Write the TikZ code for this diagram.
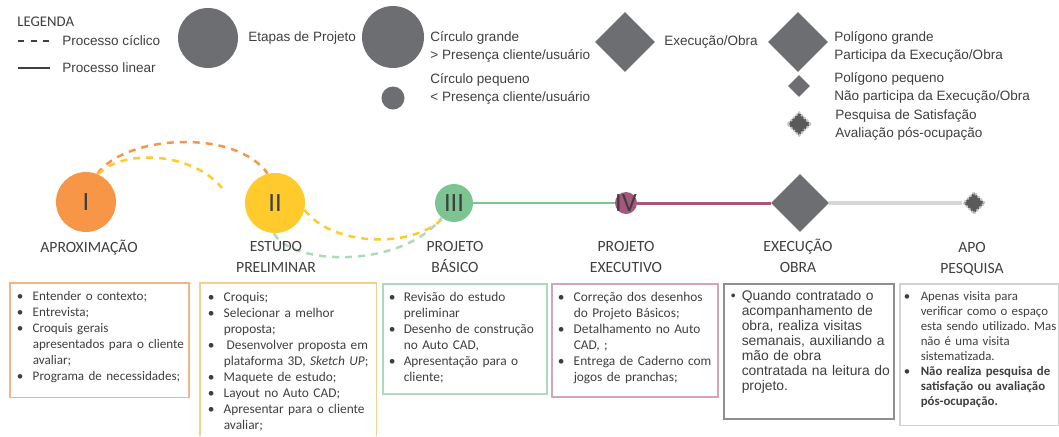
\documentclass[tikz,border=0pt]{standalone}
\usepackage{fontspec}
\setmainfont{Liberation Sans}
\newfontfamily\calibri{Carlito}
\usepackage{tikz}
\usetikzlibrary{shapes.geometric, positioning}
\definecolor{fsorange}{HTML}{F79646}
\definecolor{fsyellow}{HTML}{FFCA2B}
\definecolor{fsgreen}{HTML}{7CC492}
\definecolor{fsmauve}{HTML}{A6577C}
\definecolor{fsgray}{HTML}{6D6E71}
\definecolor{fsdark}{HTML}{5A5A5A}
\definecolor{fstext}{HTML}{3F3F3F}
\definecolor{fsrail}{HTML}{D6D6D6}
\definecolor{bdorange}{HTML}{F4B48A}
\definecolor{bdyellow}{HTML}{F0D28C}
\definecolor{bdgreen}{HTML}{ADDBB7}
\definecolor{bdmauve}{HTML}{D3A5B6}
\definecolor{bdgray}{HTML}{8F8F8F}
\definecolor{bdlight}{HTML}{D2D2D2}
\frenchspacing
\newlength\itmhang
\newlength\itmpad
\newcommand{\itmset}[2]{\setlength\itmhang{#1}\setlength\itmpad{#2}}
\newcommand{\itm}{\par\hangindent=\itmhang\hangafter=1\noindent
  \makebox[\itmhang][l]{\hspace{\itmpad}\textbullet}}
\newcommand{\boxcal}{\calibri\fontsize{7.6}{9.1}\selectfont}

\begin{document}
\begin{tikzpicture}[
    x=0.2mm, y=-0.2mm,
    stage/.style={circle, fill=#1, inner sep=0pt, text=fstext,
                  font=\calibri\fontsize{15}{15}\selectfont},
    numeral/.style={inner sep=0pt, text=fstext, font=\calibri\fontsize{15}{15}\selectfont},
    losango/.style={diamond, aspect=1, fill=fsgray, inner sep=0pt},
    pesquisa/.style={diamond, aspect=1, fill=fsdark, draw=gray!45,
                     line width=0.4mm, densely dotted, inner sep=0pt},
    rotulo/.style={align=center, anchor=base, text=fstext, inner sep=0pt,
                   font=\calibri\fontsize{8.9}{11.4}\selectfont},
    legenda/.style={anchor=west, align=left, text=fstext, inner sep=0pt,
                    font=\fontsize{7.7}{10.2}\selectfont},
    ciclo/.style={draw=#1, line width=0.5mm, dash pattern=on 1.4mm off 1.2mm},
    lista/.style={draw=#1, line width=0.3mm, anchor=north west, align=left,
                  inner xsep=0.6mm, inner ysep=0.4mm, text=fstext}
]
\useasboundingbox (0,0) rectangle (1059,436);

% legenda
\node[anchor=west, inner sep=0pt, text=fstext, font=\calibri\fontsize{8.4}{10}\selectfont]
    (leg-titulo) at (17,22) {LEGENDA};
\draw[fstext, line width=0.5mm, dash pattern=on 1.2mm off 1.3mm] (18,41) -- (50,41);
\node[legenda] (leg-ciclico) at (62,41) {Processo cíclico};
\draw[fstext, line width=0.5mm] (18,68) -- (50,68);
\node[legenda] (leg-linear) at (62,68) {Processo linear};

\node[circle, fill=fsgray, inner sep=0pt, minimum size=12mm] (leg-etapa) at (208,38) {};
\node[legenda] (leg-etapa-txt) at (248,38) {Etapas de Projeto};
\node[circle, fill=fsgray, inner sep=0pt, minimum size=12.4mm] (leg-grande) at (393,37) {};
\node[legenda] (leg-grande-txt) at (430,47) {Círculo grande\\> Presença cliente/usuário};
\node[circle, fill=fsgray, inner sep=0pt, minimum size=4.6mm] (leg-pequeno) at (393,98) {};
\node[legenda] (leg-pequeno-txt) at (430,89) {Círculo pequeno\\< Presença cliente/usuário};

\node[losango, minimum size=12mm] (leg-obra) at (625,42) {};
\node[legenda] (leg-obra-txt) at (664,42) {Execução/Obra};
\node[losango, minimum size=12mm] (leg-pgrande) at (798,42) {};
\node[legenda] (leg-pgrande-txt) at (834,47) {Polígono grande\\Participa da Execução/Obra};
\node[losango, minimum size=4.4mm] (leg-ppequeno) at (799,86) {};
\node[legenda] (leg-ppequeno-txt) at (834,88) {Polígono pequeno\\Não participa da Execução/Obra};
\node[pesquisa, minimum size=4.8mm] (leg-pesquisa) at (799,124) {};
\node[legenda] (leg-pesquisa-txt) at (835,125) {Pesquisa de Satisfação\\Avaliação pós-ocupação};

% etapas
\node[stage=fsorange, minimum size=12mm] (aprox) at (86,202) {I};
\node[stage=fsyellow, minimum size=12mm] (estudo) at (275,203) {II};
\node[stage=fsgreen, minimum size=7.6mm] (basico) at (454,203) {III};
\node[stage=fsmauve, minimum size=4.4mm, label={[numeral]center:IV}] (executivo) at (626,203) {};
\node[losango, minimum size=11.6mm] (obra) at (800,203) {};
\node[pesquisa, minimum size=4.4mm] (apo) at (974,203) {};

\draw[fsgreen, line width=0.25mm] (basico) -- (executivo);
\draw[fsmauve, line width=0.6mm] (executivo) -- (obra);
\draw[fsrail, line width=0.8mm] (obra) -- (apo);

\coordinate (ciclo-fim) at (222,188);
\draw[ciclo=fsorange] (aprox.68) .. controls (125,135) and (235,128) .. (estudo.104);
\draw[ciclo=fsyellow] (aprox.66) .. controls (120,150) and (190,150) .. (ciclo-fim);
\draw[ciclo=fsyellow] (estudo.-13) .. controls (330,245) and (410,250) .. (basico.234);
\draw[ciclo=bdgreen] (estudo.268) .. controls (290,265) and (400,270) .. (basico.230);

\node[rotulo] (aprox-lbl) at (89,252) {APROXIMAÇÃO};
\node[rotulo] (estudo-lbl) at (276,272) {ESTUDO\\PRELIMINAR};
\node[rotulo] (basico-lbl) at (455,272) {PROJETO\\BÁSICO};
\node[rotulo] (executivo-lbl) at (626,272) {PROJETO\\EXECUTIVO};
\node[rotulo] (obra-lbl) at (798,272) {EXECUÇÃO\\OBRA};
\node[rotulo] (apo-lbl) at (972,273) {APO\\PESQUISA};

% caixas
\node[lista=bdorange, text width=34.6mm, font={\calibri\fontsize{7.45}{9.1}\selectfont\itmset{4mm}{0.8mm}}]
    (aprox-box) at (9,282)
    {\itm Entender o contexto;
     \itm Entrevista;
     \itm Croquis gerais\newline \mbox{apresentados para o cliente}\newline avaliar;
     \itm Programa de necessidades;\par\vspace{2.5mm}};

\node[lista=none, text width=33.8mm, font={\boxcal\itmset{4mm}{0.8mm}}] (estudo-box) at (200,283)
    {\itm Croquis;
     \itm Selecionar a melhor\newline proposta;
     \itm \hspace{0.6mm}Desenvolver proposta em\newline plataforma 3D, \textit{Sketch UP};
     \itm Maquete de estudo;
     \itm Layout no Auto CAD;
     \itm Apresentar para o cliente\newline avaliar;\par\vspace{4mm}};
\draw[bdyellow, line width=0.3mm] (estudo-box.west |- 0,436) -- (estudo-box.north west)
    -- (estudo-box.north east) -- (estudo-box.east |- 0,436);

\node[lista=bdgreen, text width=31.6mm, font={\boxcal\itmset{3.6mm}{0.6mm}}] (basico-box) at (382,283)
    {\itm Revisão do estudo\newline preliminar
     \itm Desenho de construção\newline no Auto CAD,
     \itm Apresentação para o\newline cliente;\par\vspace{1.7mm}};

\node[lista=bdmauve, text width=32mm, font={\boxcal\itmset{3.8mm}{0.6mm}}] (executivo-box) at (551,283)
    {\itm Correção dos desenhos\newline do Projeto Básicos;
     \itm Detalhamento no Auto\newline CAD, ;
     \itm Entrega de Caderno com\newline jogos de pranchas;\par\vspace{2.2mm}};

\node[lista=bdgray, text width=32.8mm,
      font={\fontsize{7.9}{8.5}\selectfont\itmset{3mm}{0.8mm}}] (obra-box) at (723,283)
    {\itm Quando contratado o\newline acompanhamento de\newline obra, realiza visitas\newline
     semanais, auxiliando a\newline mão de obra\newline contratada na leitura do\newline
     projeto.\par\vspace{4.8mm}};

\node[lista=bdlight, text width=31.4mm, inner xsep=0.2mm,
      font={\calibri\fontsize{7.3}{8.5}\selectfont\itmset{4mm}{0.6mm}}] (apo-box) at (899,283)
    {\itm Apenas visita para\newline verificar como o espaço\newline \mbox{esta sendo utilizado. Mas}\newline
     não é uma visita\newline sistematizada.
     \itm \textbf{Não realiza pesquisa de\newline satisfação ou avaliação\newline pós-ocupação.}\par\vspace{3.2mm}};
\end{tikzpicture}
\end{document}
